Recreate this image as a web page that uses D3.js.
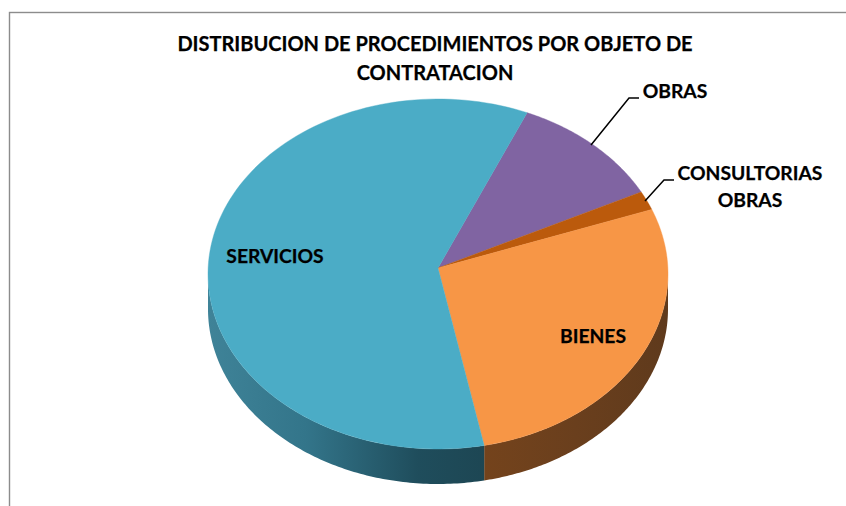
<!DOCTYPE html>
<html><head><meta charset="utf-8">
<script src="https://cdnjs.cloudflare.com/ajax/libs/d3/7.8.5/d3.min.js"></script>
<style>html,body{margin:0;padding:0;background:#fff}svg{display:block}text{font-family:Lato,"Open Sans","Noto Sans",sans-serif;font-weight:700;fill:#000;stroke:#000;stroke-width:.25px}</style>
</head><body><svg id="c" width="846" height="506"></svg>
<script>
const categories = ["OBRAS","CONSULTORIAS OBRAS","BIENES","SERVICIOS"];
const values = [10.9,1.75,27.8,59.55];
const colors = ["#8064a2","#bb5a0c","#f79646","#4bacc6"];
const sideColors = ["#4d3c62","#703607","#6b3f1c","#1f4d5c"];
const titleLines = ["DISTRIBUCION DE PROCEDIMIENTOS POR OBJETO DE","CONTRATACION"];

const W=846,H=506,cx=438,cy=274,ax=438,ay=268,rx=230,ry=175,depth=35,fs=19.3,titleFs=20;
const svg=d3.select("#c");
svg.append("rect").attr("x",9.5).attr("y",12.5).attr("width",W).attr("height",H).attr("fill","#fff").attr("stroke","#8c8c8c").attr("stroke-width",1.4);

const start=22.8*Math.PI/180;
const pie=d3.pie().sort(null).startAngle(start).endAngle(start+2*Math.PI);
const arcs=pie(values);

const defs=svg.append("defs");
const g1=defs.append("linearGradient").attr("id","sideBlue").attr("gradientUnits","userSpaceOnUse")
 .attr("x1",cx-rx).attr("x2",cx+50).attr("y1",0).attr("y2",0);
[[0,"#3f8398"],[.35,"#33758a"],[.75,"#1f4d5c"],[1,"#1d4653"]].forEach(s=>g1.append("stop").attr("offset",s[0]).attr("stop-color",s[1]));
const g2=defs.append("linearGradient").attr("id","sideOrange").attr("gradientUnits","userSpaceOnUse")
 .attr("x1",cx+46).attr("x2",cx+rx).attr("y1",0).attr("y2",0);
[[0,"#74431c"],[.5,"#6a3f1d"],[1,"#5f3a1c"]].forEach(s=>g2.append("stop").attr("offset",s[0]).attr("stop-color",s[1]));

const px=a=>cx+rx*Math.sin(a), py=a=>cy-ry*Math.cos(a);
const rim=(a0,a1)=>d3.range(0,121).map(i=>{const a=a0+(a1-a0)*i/120;return [px(a),py(a)];});
const line=d3.line();
function side(a0,a1){
  const upper=rim(a0,a1);
  const lower=upper.slice().reverse().map(p=>[p[0],p[1]+depth]);
  return line(upper.concat(lower))+"Z";
}
const lo=Math.PI/2, hi=3*Math.PI/2;
const sideFill={2:"url(#sideOrange)",3:"url(#sideBlue)"};
arcs.forEach((d,i)=>{
  [[d.startAngle,d.endAngle],[d.startAngle+2*Math.PI,d.endAngle+2*Math.PI]].forEach(([s,e])=>{
    const a0=Math.max(s,lo),a1=Math.min(e,hi);
    if(a1>a0) svg.append("path").attr("d",side(a0,a1)).attr("fill",sideFill[i]||sideColors[i]);
  });
});
svg.append("g").selectAll("path").data(arcs).join("path")
  .attr("d",d=>line([[ax,ay]].concat(rim(d.startAngle,d.endAngle)))+"Z")
  .attr("fill",(d,i)=>colors[i]).attr("stroke",(d,i)=>colors[i]).attr("stroke-width",0.4);

const t=svg.append("text").attr("text-anchor","middle").attr("font-size",titleFs);
t.append("tspan").attr("x",435).attr("y",51).text(titleLines[0]);
t.append("tspan").attr("x",435).attr("y",80).text(titleLines[1]);

const lab=(s,x,y)=>svg.append("text").attr("x",x).attr("y",y).attr("text-anchor","middle").attr("font-size",fs).text(s);
lab(categories[0],675,98);
const c=svg.append("text").attr("text-anchor","middle").attr("font-size",fs);
const parts=categories[1].split(" ");
c.append("tspan").attr("x",750).attr("y",180).text(parts[0]);
c.append("tspan").attr("x",750).attr("y",207).text(parts[1]);
lab(categories[3],275,263);
lab(categories[2],593,343);

svg.append("path").attr("d",line([[591,145],[629,98],[639,98]])).attr("fill","none").attr("stroke","#000").attr("stroke-width",1.5);
svg.append("path").attr("d",line([[645,201],[664,180],[674,180]])).attr("fill","none").attr("stroke","#000").attr("stroke-width",1.5);
</script></body></html>
